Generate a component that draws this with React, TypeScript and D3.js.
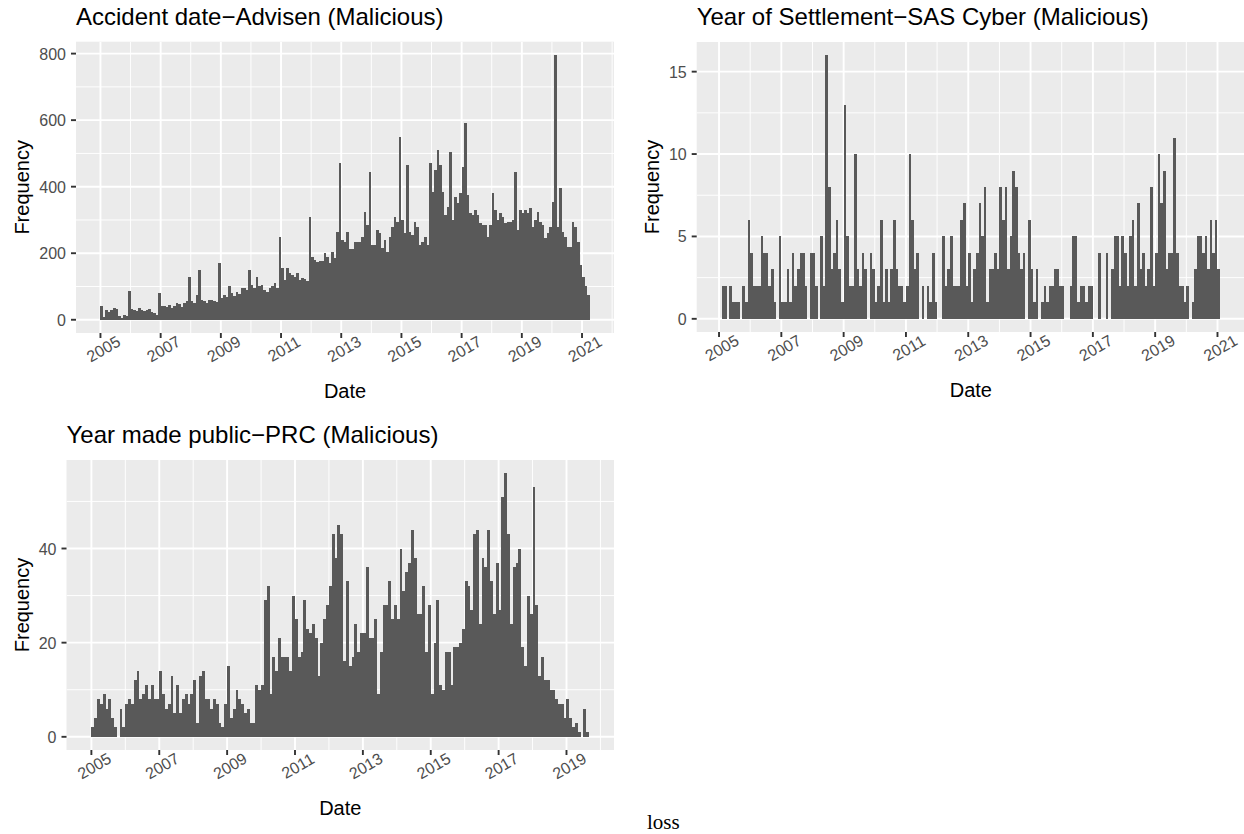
import React from 'react';
import * as d3 from 'd3';

// ---------- DATA (monthly counts) ----------
// Accident date - Advisen (Malicious): Jan 2005 .. Mar 2021
const advisenStart = 2005;
const advisenCounts = [
  42, 8, 30, 22, 28, 35, 32, 10, 5, 15, 12, 87,
  32, 30, 25, 35, 28, 25, 30, 33, 22, 20, 15, 80,
  42, 40, 38, 45, 35, 42, 50, 48, 38, 50, 55, 130,
  55, 50, 75, 150, 60, 55, 50, 60, 58, 55, 52, 170,
  65, 75, 68, 100, 80, 72, 82, 78, 95, 95, 90, 150,
  105, 95, 130, 100, 104, 90, 82, 95, 100, 110, 95, 248,
  155, 120, 155, 140, 135, 130, 140, 120, 125, 122, 118, 310,
  190, 180, 175, 178, 178, 200, 190, 170, 205, 185, 265, 470,
  240, 235, 265, 212, 212, 235, 235, 235, 250, 325, 285, 445,
  225, 225, 270, 260, 215, 240, 205, 250, 280, 310, 295, 550,
  300, 260, 465, 265, 255, 295, 280, 225, 235, 250, 225, 470,
  385, 450, 510, 465, 385, 315, 340, 505, 300, 370, 350, 380,
  460, 590, 375, 320, 315, 330, 315, 290, 285, 285, 250, 285,
  380, 330, 300, 320, 310, 290, 295, 295, 300, 445, 270, 330,
  320, 330, 320, 335, 280, 300, 325, 295, 285, 245, 260, 280,
  355, 796, 280, 395, 265, 250, 220, 220, 295, 280, 235, 165,
  130, 100, 75,
];

// Year of Settlement - SAS Cyber (Malicious): Feb 2005 .. Jan 2021
const sasStart = 2005 + 1 / 12;
const sasCounts = [
  2, 2, 0, 2, 1, 1, 1, 0, 2, 1, 6,
  4, 2, 2, 2, 5, 4, 4, 2, 3, 1, 0, 5,
  1, 1, 3, 1, 4, 2, 3, 4, 4, 2, 0, 4,
  4, 2, 0, 5, 2, 16, 8, 3, 4, 6, 3, 1,
  13, 5, 2, 2, 10, 3, 2, 4, 3, 0, 4, 3,
  1, 2, 6, 1, 3, 1, 3, 6, 3, 2, 2, 1,
  2, 10, 6, 3, 4, 0, 2, 0, 2, 1, 4, 1,
  0, 0, 5, 2, 3, 5, 2, 2, 2, 6, 7, 2,
  4, 1, 3, 4, 7, 5, 8, 1, 3, 3, 4, 3,
  8, 6, 8, 3, 5, 9, 8, 4, 3, 4, 0, 6,
  3, 1, 3, 0, 1, 2, 1, 2, 2, 3, 3, 2,
  2, 0, 0, 2, 5, 5, 1, 2, 2, 1, 2, 2,
  0, 0, 4, 0, 0, 4, 0, 3, 5, 5, 2, 5,
  4, 2, 5, 6, 2, 7, 3, 4, 2, 3, 8, 2,
  4, 10, 7, 9, 3, 4, 4, 11, 4, 2, 2, 1,
  2, 0, 1, 3, 5, 5, 4, 5, 3, 6, 4, 6,
  3,
];

// Year made public - PRC (Malicious): Jan 2005 .. Aug 2019
const prcStart = 2005;
const prcCounts = [
  2, 4, 8, 7, 9, 6, 8, 4, 2, 0, 6, 2,
  7, 8, 7, 12, 14, 8, 9, 11, 8, 11, 8, 8,
  14, 9, 6, 7, 13, 5, 11, 5, 8, 9, 7, 9,
  12, 3, 13, 14, 8, 8, 6, 8, 7, 3, 2, 7,
  15, 4, 6, 10, 8, 7, 5, 6, 3, 3, 11, 10,
  11, 29, 32, 9, 17, 14, 21, 17, 17, 17, 14, 30,
  25, 17, 18, 29, 23, 22, 24, 21, 13, 20, 25, 28,
  32, 43, 38, 45, 43, 16, 33, 15, 17, 24, 18, 22,
  22, 36, 21, 21, 25, 9, 18, 28, 28, 33, 25, 28,
  25, 40, 31, 35, 37, 44, 38, 26, 26, 32, 18, 28,
  9, 20, 29, 11, 10, 18, 18, 11, 19, 19, 20, 23,
  33, 32, 27, 43, 44, 24, 38, 36, 44, 33, 26, 37,
  27, 51, 56, 43, 24, 36, 37, 40, 19, 15, 30, 26,
  53, 28, 13, 17, 12, 12, 10, 10, 8, 7, 7, 4,
  8, 4, 2, 3, 1, 0, 6, 1,
];

const majorYears = [2005, 2007, 2009, 2011, 2013, 2015, 2017, 2019, 2021];
const minorYears = [2004, 2006, 2008, 2010, 2012, 2014, 2016, 2018, 2020, 2022];

const advisenYMajor = [0, 200, 400, 600, 800];
const advisenYMinor = [100, 300, 500, 700];
const sasYMajor = [0, 5, 10, 15];
const sasYMinor = [2.5, 7.5, 12.5];
const prcYMajor = [0, 20, 40];
const prcYMinor = [10, 30, 50];

const SANS = '"Liberation Sans", Arial, Helvetica, sans-serif';
const BAR = '#595959';
const PANEL_BG = '#EBEBEB';
const TICK_TEXT = '#4D4D4D';

type Box = { left: number; top: number; right: number; bottom: number };

function Panel(props: {
  title: string;
  start: number;
  counts: number[];
  box: Box;
  yMajor: number[];
  yMinor: number[];
  clipId: string;
}) {
  const { title, start, counts, box, yMajor, yMinor, clipId } = props;
  const x0 = start;
  const x1 = start + counts.length / 12;
  const pad = (x1 - x0) * 0.05;
  const x = d3.scaleLinear().domain([x0 - pad, x1 + pad]).range([box.left, box.right]);
  const ymax = d3.max(counts) as number;
  const y = d3.scaleLinear().domain([-0.05 * ymax, 1.05 * ymax]).range([box.bottom, box.top]);
  const [dx0, dx1] = x.domain();
  const [dy0, dy1] = y.domain();
  const xMaj = majorYears.filter((v) => v >= dx0 && v <= dx1);
  const xMin = minorYears.filter((v) => v >= dx0 && v <= dx1);
  const yMaj = yMajor.filter((v) => v >= dy0 && v <= dy1);
  const yMin = yMinor.filter((v) => v >= dy0 && v <= dy1);
  const w = box.right - box.left;
  const h = box.bottom - box.top;
  const cx = (box.left + box.right) / 2;
  const cy = (box.top + box.bottom) / 2;
  const maxLabelW = d3.max(yMaj, (v) => String(v).length) as number * 0.556 * 16;
  const yTitleX = box.left - 11 - maxLabelW - 9;

  return (
    <g>
      <defs>
        <clipPath id={clipId}>
          <rect x={box.left} y={box.top} width={w} height={h} />
        </clipPath>
      </defs>
      <rect x={box.left} y={box.top} width={w} height={h} fill={PANEL_BG} />
      <g clipPath={`url(#${clipId})`}>
        {yMin.map((v) => (
          <line key={'ym' + v} x1={box.left} x2={box.right} y1={y(v)} y2={y(v)} stroke="#fff" strokeWidth={0.95} />
        ))}
        {xMin.map((v) => (
          <line key={'xm' + v} x1={x(v)} x2={x(v)} y1={box.top} y2={box.bottom} stroke="#fff" strokeWidth={0.95} />
        ))}
        {yMaj.map((v) => (
          <line key={'yM' + v} x1={box.left} x2={box.right} y1={y(v)} y2={y(v)} stroke="#fff" strokeWidth={1.9} />
        ))}
        {xMaj.map((v) => (
          <line key={'xM' + v} x1={x(v)} x2={x(v)} y1={box.top} y2={box.bottom} stroke="#fff" strokeWidth={1.9} />
        ))}
        {counts.map((c, i) => {
          if (c <= 0) return null;
          const a = x(start + i / 12);
          const b = x(start + (i + 1) / 12);
          return (
            <rect
              key={'b' + i}
              x={a}
              width={b - a}
              y={y(c)}
              height={y(0) - y(c)}
              fill={BAR}
              shapeRendering="crispEdges"
            />
          );
        })}
      </g>
      {/* y axis */}
      {yMaj.map((v) => (
        <g key={'yt' + v}>
          <line x1={box.left - 5} x2={box.left} y1={y(v)} y2={y(v)} stroke="#333" strokeWidth={1.9} />
          <text
            x={box.left - 10}
            y={y(v) + 6}
            textAnchor="end"
            fontFamily={SANS}
            fontSize={16}
            fill={TICK_TEXT}
          >
            {String(v)}
          </text>
        </g>
      ))}
      {/* x axis */}
      {xMaj.map((v) => (
        <g key={'xt' + v}>
          <line x1={x(v)} x2={x(v)} y1={box.bottom} y2={box.bottom + 5} stroke="#333" strokeWidth={1.9} />
          <text
            transform={`translate(${x(v) + 3},${box.bottom + 16}) rotate(-30)`}
            textAnchor="middle"
            dominantBaseline="central"
            fontFamily={SANS}
            fontSize={16}
            fill={TICK_TEXT}
          >
            {String(v)}
          </text>
        </g>
      ))}
      <text x={cx} y={box.bottom + 65} textAnchor="middle" fontFamily={SANS} fontSize={20} fill="#000">
        Date
      </text>
      <text
        transform={`translate(${yTitleX},${cy}) rotate(-90)`}
        textAnchor="middle"
        fontFamily={SANS}
        fontSize={20}
        fill="#000"
      >
        Frequency
      </text>
      <text x={box.left} y={box.top - 17} fontFamily={SANS} fontSize={24} fill="#000">
        {title}
      </text>
    </g>
  );
}

export default function App() {
  return (
    <svg
      width={1244}
      height={834}
      style={{ position: 'absolute', left: 0, top: 0, background: '#fff' }}
      xmlns="http://www.w3.org/2000/svg"
    >
      <rect x={0} y={0} width={1244} height={834} fill="#fff" />
      <Panel
        title="Accident date−Advisen (Malicious)"
        start={advisenStart}
        counts={advisenCounts}
        box={{ left: 76, top: 41.7, right: 614, bottom: 333 }}
        yMajor={advisenYMajor}
        yMinor={advisenYMinor}
        clipId="c1"
      />
      <Panel
        title="Year of Settlement−SAS Cyber (Malicious)"
        start={sasStart}
        counts={sasCounts}
        box={{ left: 696.7, top: 42, right: 1245, bottom: 332 }}
        yMajor={sasYMajor}
        yMinor={sasYMinor}
        clipId="c2"
      />
      <Panel
        title="Year made public−PRC (Malicious)"
        start={prcStart}
        counts={prcCounts}
        box={{ left: 66.5, top: 460, right: 614, bottom: 750 }}
        yMajor={prcYMajor}
        yMinor={prcYMinor}
        clipId="c3"
      />
      <text x={647} y={829} fontFamily='"Liberation Serif", "DejaVu Serif", serif' fontSize={21} fill="#000">
        loss
      </text>
    </svg>
  );
}
